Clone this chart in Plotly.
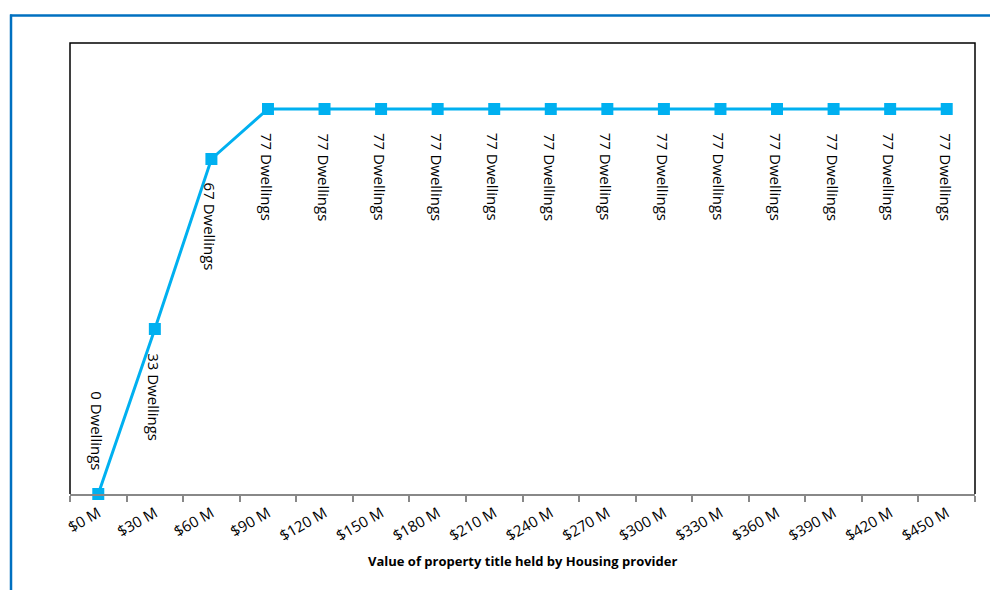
import plotly.graph_objects as go

categories = ["$0 M", "$30 M", "$60 M", "$90 M", "$120 M", "$150 M", "$180 M", "$210 M",
              "$240 M", "$270 M", "$300 M", "$330 M", "$360 M", "$390 M", "$420 M", "$450 M"]
dwellings = [0, 33, 67, 77, 77, 77, 77, 77, 77, 77, 77, 77, 77, 77, 77, 77]
x_title = "Value of property title held by Housing provider"

W, H = 990, 590
L, R, T, B = 70, 15, 43, 96
pw, ph = W - L - R, H - T - B

font = "Open Sans"
fig = go.Figure()
fig.add_trace(go.Scatter(
    x=categories, y=dwellings, mode="lines+markers",
    line=dict(color="#00B0F0", width=3),
    marker=dict(symbol="square", size=12, color="#00B0F0"),
    cliponaxis=False,
    hoverinfo="skip", showlegend=False,
))

annotations = []
for i, (c, v) in enumerate(zip(categories, dwellings)):
    txt = f"{v} Dwellings"
    if i == 0:
        annotations.append(dict(x=c, y=v, text=txt, textangle=90, showarrow=False,
                                xanchor="center", yanchor="bottom", yshift=22, xshift=-1,
                                font=dict(family=font, size=15, color="#000000")))
    else:
        annotations.append(dict(x=c, y=v, text=txt, textangle=90, showarrow=False,
                                xanchor="center", yanchor="top", yshift=-22, xshift=-1,
                                font=dict(family=font, size=15, color="#000000")))

annotations.append(dict(x=0.5, y=(H - 561 - B) / ph, xref="paper", yref="paper",
                        text=f"<b>{x_title}</b>", showarrow=False,
                        xanchor="center", yanchor="middle",
                        font=dict(family=font, size=13, color="#000000")))

shapes = [
    # plot box (black) left, top, right
    dict(type="path", xref="paper", yref="paper",
         path="M 0 0 L 0 1 L 1 1 L 1 0",
         line=dict(color="#000000", width=1.5), layer="above"),
    # blue frame top
    dict(type="line", xref="paper", yref="paper",
         x0=(10 - L) / pw, x1=(W + 5 - L) / pw,
         y0=1 + (T - 15.5) / ph, y1=1 + (T - 15.5) / ph,
         line=dict(color="#0070C0", width=2.5)),
    # blue frame left
    dict(type="line", xref="paper", yref="paper",
         x0=(11 - L) / pw, x1=(11 - L) / pw,
         y0=1 + (T - 14.5) / ph, y1=-(B + 10) / ph,
         line=dict(color="#0070C0", width=2.5)),
]

fig.update_layout(
    width=W, height=H,
    margin=dict(l=L, r=R, t=T, b=B),
    paper_bgcolor="white", plot_bgcolor="white",
    font=dict(family=font, size=12, color="#000000"),
    xaxis=dict(type="category", categoryorder="array", categoryarray=categories,
               tickson="boundaries", ticks="outside", ticklen=6, tickcolor="#888888",
               tickwidth=1.5, ticklabelstandoff=3,
               showline=True, linecolor="#888888", linewidth=1.5,
               showgrid=False, zeroline=False, tickangle=-30,
               tickfont=dict(family=font, size=15, color="#000000"),
               range=[-0.5, len(categories) - 0.5], fixedrange=True),
    yaxis=dict(range=[0, 90.2], showticklabels=False, showgrid=False, zeroline=False,
               ticks="", showline=False, fixedrange=True),
    annotations=annotations,
    shapes=shapes,
)

fig.write_html("out.html")
